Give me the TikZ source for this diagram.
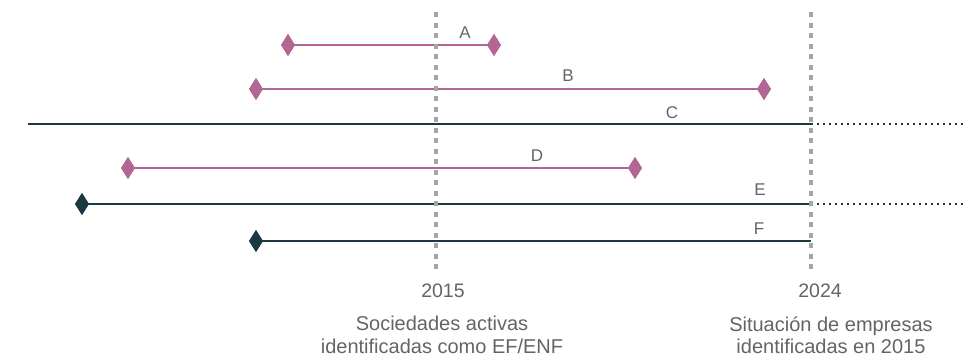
\documentclass[tikz,border=0pt]{standalone}
\usepackage{fontspec}
\setmainfont{Liberation Sans}
\usetikzlibrary{shapes.geometric}
\definecolor{pinkc}{RGB}{178,102,146}
\definecolor{darkc}{RGB}{27,58,64}
\definecolor{txtc}{RGB}{100,100,100}
\definecolor{gridc}{RGB}{165,165,165}
\tikzset{
  dia/.style={diamond, inner sep=0pt, minimum width=14pt, minimum height=22pt, fill=#1, draw=none},
  pinkline/.style={draw=pinkc, line width=2.6pt},
  darkline/.style={draw=darkc, line width=2.6pt},
  extline/.style={draw=darkc, line width=2.4pt, dash pattern=on 2.4pt off 3.6pt},
  yearline/.style={draw=gridc, line width=3.5pt, dash pattern=on 5pt off 5.5pt},
  lbl/.style={text=txtc, font=\fontsize{17}{20}\selectfont, inner sep=0pt},
  yr/.style={text=txtc, font=\fontsize{19.5}{22}\selectfont, inner sep=0pt},
  captxt/.style={text=txtc, font=\fontsize{20}{22.5}\selectfont, align=center, inner sep=0pt}
}
\begin{document}
\begin{tikzpicture}[x=1pt,y=-1pt]
\useasboundingbox (0,0) rectangle (967,357);
% A
\node[dia=pinkc] (a1) at (288,45) {};
\node[dia=pinkc] (a2) at (494,45) {};
\draw[pinkline] (a1.center) -- (a2.center);
\node[lbl] (la) at (465,33) {A};
% B
\node[dia=pinkc] (b1) at (256,89) {};
\node[dia=pinkc] (b2) at (764,89) {};
\draw[pinkline] (b1.center) -- (b2.center);
\node[lbl] (lb) at (568,76) {B};
% C
\coordinate (c1) at (28,124);
\coordinate (c2) at (811,124);
\coordinate (c3) at (967,124);
\draw[darkline] (c1) -- (c2);
\draw[extline] (c2) -- (c3);
\node[lbl] (lc) at (672,113) {C};
% D
\node[dia=pinkc] (d1) at (128,168) {};
\node[dia=pinkc] (d2) at (635,168) {};
\draw[pinkline] (d1.center) -- (d2.center);
\node[lbl] (ld) at (537,156) {D};
% E
\node[dia=darkc] (e1) at (82,204) {};
\coordinate (e2) at (811,204);
\coordinate (e3) at (967,204);
\draw[darkline] (e1.center) -- (e2);
\draw[extline] (e2) -- (e3);
\node[lbl] (le) at (760,190) {E};
% F
\node[dia=darkc] (f1) at (256,241) {};
\coordinate (f2) at (811,241);
\draw[darkline] (f1.center) -- (f2);
\node[lbl] (lf) at (759,229) {F};
% redraw diamonds on top
\node[dia=pinkc] at (a1) {};
\node[dia=pinkc] at (a2) {};
\node[dia=pinkc] at (b1) {};
\node[dia=pinkc] at (b2) {};
\node[dia=pinkc] at (d1) {};
\node[dia=pinkc] at (d2) {};
\node[dia=darkc] at (e1) {};
\node[dia=darkc] at (f1) {};
% year lines
\coordinate (y1t) at (436,12);
\coordinate (y1b) at (436,273);
\coordinate (y2t) at (811,12);
\coordinate (y2b) at (811,273);
\draw[yearline] (y1t) -- (y1b);
\draw[yearline] (y2t) -- (y2b);
% labels
\node[yr] (t1) at (443,291) {2015};
\node[yr] (t2) at (820,291) {2024};
\node[captxt] (s1) at (442,335) {Sociedades activas\\identificadas como EF/ENF};
\node[captxt] (s2) at (831,335) {Situación de empresas\\identificadas en 2015};
\end{tikzpicture}
\end{document}
